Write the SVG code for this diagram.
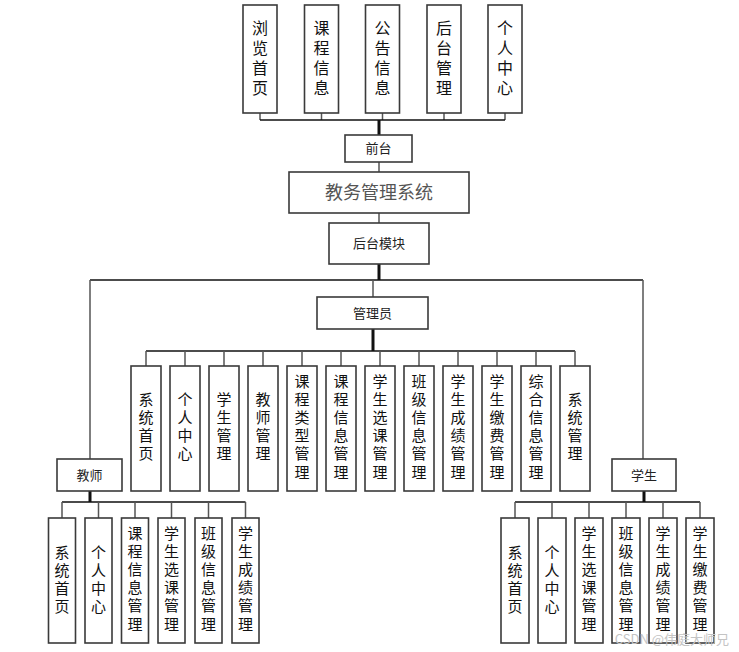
<svg xmlns="http://www.w3.org/2000/svg" width="739" height="652" viewBox="0 0 739 652">
<style>
rect{fill:#fff;stroke:#3a3a3a;stroke-width:1.6}
text{font-family:"Noto Sans CJK SC","Microsoft YaHei",sans-serif;text-anchor:middle;fill:#111}
.v{font-size:16px;writing-mode:vertical-rl;letter-spacing:4px}
.c{font-size:15px;writing-mode:vertical-rl;letter-spacing:3.2px}
.h{font-size:13px;fill:#222}
.t{font-size:18px;fill:#555}
.thin{stroke:#555;stroke-width:1.5;fill:none}
.blk{stroke:#111;stroke-width:1.6;fill:none}
.thk{stroke:#111;stroke-width:3;fill:none}
.wm{font-size:13px;fill:#c4c4c4;text-anchor:end;font-family:"Noto Sans CJK SC",sans-serif}
</style>
<rect x="0" y="0" width="739" height="652" style="fill:#fff;stroke:none"/>
<g id="connectors">
<path class="thin" d="M260 113V120M321.5 113V120M382.5 113V120M444 113V120M505 113V120"/>
<path class="blk" d="M260 120H505"/>
<path class="thk" d="M379 120V135"/>
<path class="thin" d="M379 162V172M379 213V223"/>
<path class="thk" d="M379 264V280"/>
<path class="blk" d="M90 280H643"/>
<path class="thin" d="M373 280V297M90 280V459M643 280V459"/>
<path class="thk" d="M373 329V351"/>
<path class="blk" d="M146 351H575"/>
<path class="thin" d="M146 351V366M185 351V366M224 351V366M263 351V366M302 351V366M341 351V366M380 351V366M419 351V366M458 351V366M497 351V366M536 351V366M575 351V366"/>
<path class="thk" d="M90 491V502M644 491V502"/>
<path class="blk" d="M62 502H245.5M515 502H700"/>
<path class="thin" d="M62 502V518M98.5 502V518M135 502V518M171.5 502V518M208.5 502V518M245.5 502V518"/>
<path class="thin" d="M515 502V518M552 502V518M589 502V518M626 502V518M663 502V518M700 502V518"/>
</g>

<g id="f1"><rect x="243" y="5" width="34" height="108"/><text class="v" x="260" y="60">浏览首页</text></g>
<g id="f2"><rect x="304.5" y="5" width="34" height="108"/><text class="v" x="321.5" y="60">课程信息</text></g>
<g id="f3"><rect x="365.5" y="5" width="34" height="108"/><text class="v" x="382.5" y="60">公告信息</text></g>
<g id="f4"><rect x="427" y="5" width="34" height="108"/><text class="v" x="444" y="60">后台管理</text></g>
<g id="f5"><rect x="488" y="5" width="34" height="108"/><text class="v" x="505" y="60">个人中心</text></g>

<g id="qiantai"><rect x="345" y="135" width="67" height="27"/><text class="h" x="378.5" y="153">前台</text></g>
<g id="system"><rect x="289" y="172" width="180" height="41"/><text class="t" x="379" y="199">教务管理系统</text></g>
<g id="houtai"><rect x="329" y="223" width="100" height="41"/><text class="h" x="379" y="248">后台模块</text></g>
<g id="admin"><rect x="317" y="297" width="111" height="32"/><text class="h" x="372.5" y="318">管理员</text></g>
<g id="teacher"><rect x="57" y="459" width="65" height="32"/><text class="h" x="89.5" y="480">教师</text></g>
<g id="student"><rect x="612" y="459" width="64" height="32"/><text class="h" x="644" y="480">学生</text></g>

<g id="a1"><rect x="131" y="366" width="30" height="125"/><text class="c" x="146" y="428">系统首页</text></g>
<g id="a2"><rect x="170" y="366" width="30" height="125"/><text class="c" x="185" y="428">个人中心</text></g>
<g id="a3"><rect x="209" y="366" width="30" height="125"/><text class="c" x="224" y="428">学生管理</text></g>
<g id="a4"><rect x="248" y="366" width="30" height="125"/><text class="c" x="263" y="428">教师管理</text></g>
<g id="a5"><rect x="287" y="366" width="30" height="125"/><text class="c" x="302" y="428">课程类型管理</text></g>
<g id="a6"><rect x="326" y="366" width="30" height="125"/><text class="c" x="341" y="428">课程信息管理</text></g>
<g id="a7"><rect x="365" y="366" width="30" height="125"/><text class="c" x="380" y="428">学生选课管理</text></g>
<g id="a8"><rect x="404" y="366" width="30" height="125"/><text class="c" x="419" y="428">班级信息管理</text></g>
<g id="a9"><rect x="443" y="366" width="30" height="125"/><text class="c" x="458" y="428">学生成绩管理</text></g>
<g id="a10"><rect x="482" y="366" width="30" height="125"/><text class="c" x="497" y="428">学生缴费管理</text></g>
<g id="a11"><rect x="521" y="366" width="30" height="125"/><text class="c" x="536" y="428">综合信息管理</text></g>
<g id="a12"><rect x="560" y="366" width="30" height="125"/><text class="c" x="575" y="428">系统管理</text></g>

<g id="t1"><rect x="48.5" y="518" width="27" height="125"/><text class="c" x="62" y="581">系统首页</text></g>
<g id="t2"><rect x="85" y="518" width="27" height="125"/><text class="c" x="98.5" y="581">个人中心</text></g>
<g id="t3"><rect x="121.5" y="518" width="27" height="125"/><text class="c" x="135" y="580">课程信息管理</text></g>
<g id="t4"><rect x="158" y="518" width="27" height="125"/><text class="c" x="171.5" y="580">学生选课管理</text></g>
<g id="t5"><rect x="195" y="518" width="27" height="125"/><text class="c" x="208.5" y="580">班级信息管理</text></g>
<g id="t6"><rect x="232" y="518" width="27" height="125"/><text class="c" x="245.5" y="580">学生成绩管理</text></g>

<g id="s1"><rect x="501" y="518" width="28" height="125"/><text class="c" x="515" y="581">系统首页</text></g>
<g id="s2"><rect x="538" y="518" width="28" height="125"/><text class="c" x="552" y="581">个人中心</text></g>
<g id="s3"><rect x="575" y="518" width="28" height="125"/><text class="c" x="589" y="580">学生选课管理</text></g>
<g id="s4"><rect x="612" y="518" width="28" height="125"/><text class="c" x="626" y="580">班级信息管理</text></g>
<g id="s5"><rect x="649" y="518" width="28" height="125"/><text class="c" x="663" y="580">学生成绩管理</text></g>
<g id="s6"><rect x="686" y="518" width="28" height="125"/><text class="c" x="700" y="580">学生缴费管理</text></g>

<text class="wm" x="729" y="644">CSDN @伟庭大师兄</text>
</svg>
